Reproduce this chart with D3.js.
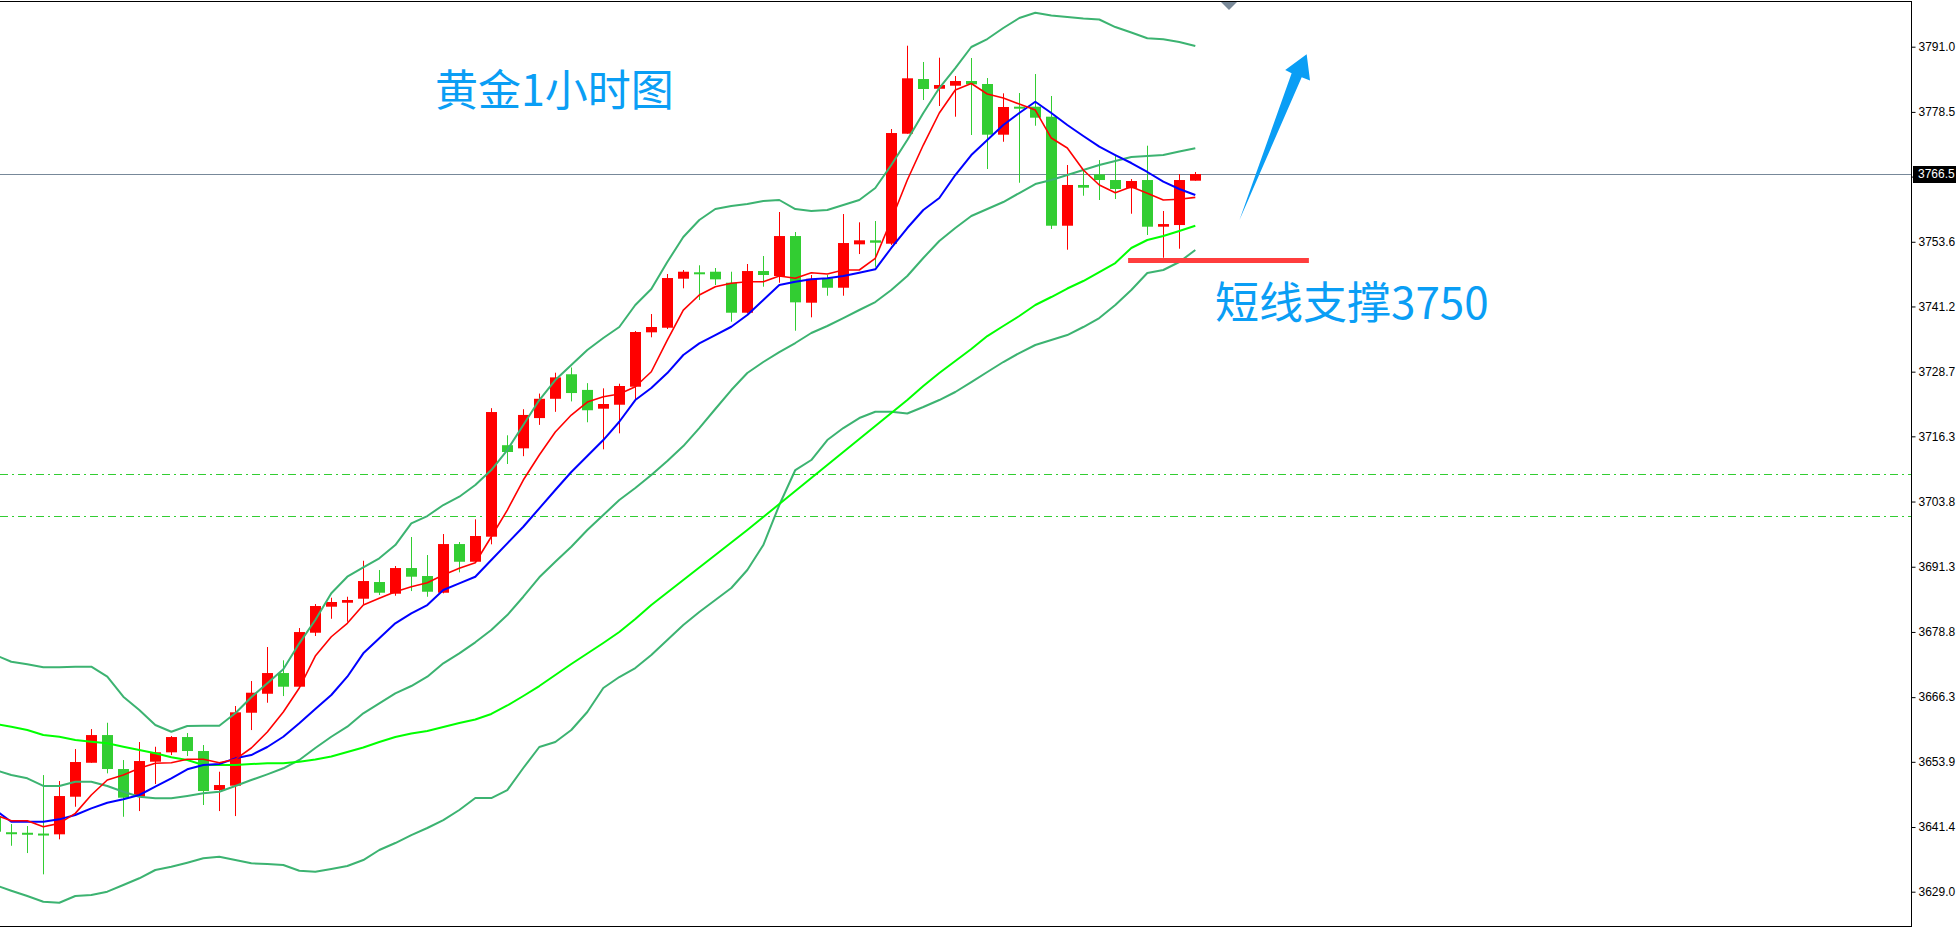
<!DOCTYPE html>
<html><head><meta charset="utf-8">
<script src="https://cdn.jsdelivr.net/npm/d3@7"></script>
<style>html,body{margin:0;padding:0;background:#fff;overflow:hidden}svg{display:block}</style>
</head><body><svg id="c" width="1956" height="927"></svg>
<script>
// ---- data (1-hour gold candles, index -1 is the partially visible first bar) ----
const barIndex = d3.range(-1, 75);
const open = [3643.37,
 3640.40,3640.30,3640.15,3640.00,3647.21,3653.72,3659.03,3652.52,3647.21,3653.92,
 3655.72,3658.65,3655.97,3648.49,3649.32,3663.31,3666.95,3670.92,3668.30,3678.65,
 3683.64,3684.40,3685.17,3688.37,3686.13,3691.05,3689.52,3686.32,3695.65,3692.26,
 3697.06,3714.6,3714.0,3719.8,3723.5,3728.2,3725.2,3721.60,3722.36,3725.81,
 3736.24,3737.12,3746.52,3747.75,3747.86,3745.75,3740.00,3747.99,3747.04,3754.70,
 3741.92,3746.59,3744.79,3753.11,3753.88,3753.23,3774.32,3784.80,3782.94,3783.52,
 3784.42,3783.85,3774.13,3779.50,3779.50,3777.58,3756.68,3764.49,3766.53,3765.44,
 3763.85,3765.44,3756.49,3756.81,3765.31];
const high = [3644.3,
 3641.97,3641.59,3651.36,3650.22,3656.35,3660.18,3661.39,3654.24,3657.70,3656.79,
 3658.84,3659.42,3657.12,3652.00,3664.60,3669.39,3675.91,3673.36,3679.55,3684.15,
 3685.36,3685.55,3692.45,3690.67,3691.44,3697.00,3693.55,3697.57,3696.04,3700.39,
 3721.7,3716.5,3721.5,3724.5,3728.5,3729.5,3726.5,3725.50,3726.39,3736.49,
 3739.75,3747.42,3748.19,3749.09,3748.57,3747.86,3749.34,3750.87,3759.31,3755.47,
 3747.23,3747.23,3758.92,3757.33,3757.58,3775.22,3791.19,3788.07,3788.89,3785.38,
 3788.83,3784.99,3782.06,3782.12,3785.76,3781.55,3768.32,3767.49,3769.27,3770.23,
 3765.63,3772.02,3759.50,3766.59,3766.98];
const low = [3639.9,
 3637.81,3636.41,3632.33,3639.04,3645.29,3653.72,3651.69,3643.37,3644.46,3649.64,
 3655.20,3655.01,3645.62,3644.46,3643.50,3659.99,3665.23,3666.51,3668.11,3678.02,
 3681.33,3680.76,3684.15,3685.88,3685.74,3686.64,3685.55,3686.20,3690.23,3692.07,
 3695.6,3711.0,3712.5,3718.5,3721.0,3723.0,3719.0,3713.81,3716.88,3723.40,
 3735.29,3736.88,3744.68,3742.44,3745.31,3738.28,3739.88,3744.99,3745.75,3736.55,
 3739.12,3743.26,3743.26,3751.25,3748.82,3752.98,3774.32,3780.78,3779.63,3777.58,
 3774.07,3767.55,3772.78,3764.92,3775.85,3756.05,3752.08,3762.43,3761.61,3761.80,
 3758.98,3754.90,3750.54,3752.27,3765.31];
const close = [3640.50,
 3640.20,3640.10,3639.95,3647.34,3653.86,3659.03,3652.52,3647.02,3654.05,3655.72,
 3658.65,3655.97,3648.30,3649.45,3663.39,3667.15,3670.92,3668.30,3678.78,3683.77,
 3684.54,3684.92,3688.56,3686.32,3691.05,3689.39,3686.51,3695.65,3692.26,3697.19,
 3720.96,3713.3,3720.4,3723.5,3727.6,3724.6,3721.3,3722.50,3725.95,3736.30,
 3737.26,3746.65,3747.86,3747.60,3746.40,3740.00,3747.99,3747.23,3754.70,3741.99,
 3746.52,3744.79,3753.36,3753.88,3753.42,3774.45,3784.94,3782.89,3783.65,3784.42,
 3783.79,3774.13,3779.44,3779.40,3777.39,3756.68,3764.49,3763.97,3765.44,3763.72,
 3765.25,3756.49,3757.00,3765.44,3766.59];

// indicator lines, read at each bar
const maFast = [3643.70,3642.60,3642.60,3641.45,3642.10,3644.02,3647.54,3650.41,3651.37,3652.66,3653.62,
 3653.73,3654.38,3654.38,3653.73,3654.38,3656.55,3659.62,3663.45,3668.05,3674.18,
 3677.88,3680.45,3683.96,3685.25,3686.52,3687.47,3688.24,3689.71,3691.00,3692.07,
 3697.05,3702.17,3707.92,3712.72,3717.13,3720.38,3722.88,3723.89,3724.41,3725.81,
 3728.68,3734.76,3740.51,3743.40,3744.99,3745.64,3745.95,3745.95,3747.04,3746.60,
 3747.67,3747.42,3748.19,3748.19,3750.43,3757.78,3765.44,3772.15,3778.29,3782.70,
 3783.94,3781.93,3781.16,3780.01,3778.86,3773.49,3771.58,3767.36,3764.48,3763.01,
 3764.16,3762.89,3761.61,3761.74,3762.12];
const maMid = [3644.65,3642.41,3642.41,3642.41,3642.87,3643.70,3644.98,3646.05,3646.71,3647.54,3649.13,
 3650.74,3652.46,3653.29,3653.48,3654.57,3655.20,3656.74,3658.71,3661.28,3664.02,
 3666.71,3670.22,3674.70,3677.58,3680.45,3682.37,3683.96,3686.84,3688.12,3689.39,
 3692.59,3695.79,3698.97,3702.50,3706.01,3709.46,3712.52,3715.59,3719.10,3723.26,
 3725.56,3728.43,3731.89,3734.13,3735.72,3737.31,3739.55,3742.43,3745.32,3745.95,
 3746.41,3746.60,3747.04,3747.67,3748.32,3752.41,3756.24,3759.69,3761.99,3766.40,
 3770.23,3773.11,3775.98,3778.29,3780.45,3778.29,3775.98,3773.88,3771.83,3770.23,
 3768.70,3766.98,3765.12,3763.72,3762.57];
const maSlow = [3661.15,3660.63,3660.00,3659.04,3658.71,3658.08,3657.75,3657.45,3656.80,3656.17,3655.53,
 3654.77,3654.25,3653.29,3653.29,3653.29,3653.48,3653.62,3653.62,3653.93,3654.35,
 3654.92,3655.79,3656.65,3657.70,3658.66,3659.33,3659.81,3660.58,3661.34,3662.01,
 3663.07,3664.70,3666.52,3668.43,3670.54,3672.65,3674.66,3676.68,3678.79,3681.28,
 3683.96,3686.36,3688.76,3691.15,3693.55,3695.94,3698.34,3700.83,3703.32,3705.82,
 3708.31,3710.80,3713.30,3715.79,3718.28,3720.77,3723.26,3725.95,3728.44,3730.74,
 3733.04,3735.53,3737.45,3739.37,3741.48,3743.01,3744.64,3746.08,3747.80,3749.53,
 3752.41,3753.94,3754.71,3755.66,3756.68];
const bbUpper = [3674.38,3673.09,3672.59,3672.02,3672.02,3672.14,3672.14,3670.22,3666.38,3663.83,3660.96,
 3659.67,3660.76,3660.82,3660.82,3663.20,3666.27,3668.95,3671.64,3676.62,3681.08,
 3686.21,3689.39,3691.19,3692.91,3695.46,3699.62,3701.02,3703.13,3704.73,3706.97,
 3709.84,3713.68,3718.47,3723.26,3727.10,3729.97,3732.85,3735.15,3737.26,3741.48,
 3744.54,3749.72,3754.51,3757.77,3759.88,3760.46,3760.84,3761.41,3761.61,3759.88,
 3759.50,3759.69,3760.65,3761.61,3763.91,3768.32,3773.11,3778.29,3783.08,3786.91,
 3790.94,3792.47,3794.58,3796.50,3797.52,3796.98,3796.69,3796.40,3796.21,3794.77,
 3793.72,3792.61,3792.42,3791.90,3791.13];
const bbMiddle = [3652.33,3651.37,3650.74,3649.27,3649.27,3650.09,3650.09,3649.27,3648.17,3647.21,3646.90,
 3646.90,3647.35,3647.86,3648.17,3649.27,3650.41,3651.50,3652.66,3654.25,3656.55,
 3658.71,3660.63,3663.20,3665.12,3667.03,3668.43,3670.22,3672.78,3674.70,3676.81,
 3679.17,3682.04,3685.55,3689.27,3692.26,3695.14,3698.34,3701.22,3704.09,3706.39,
 3708.88,3711.57,3714.44,3717.89,3721.54,3725.18,3728.44,3730.55,3732.46,3734.19,
 3736.11,3737.45,3738.98,3740.52,3742.05,3744.35,3747.04,3750.49,3753.75,3756.24,
 3758.54,3759.88,3761.22,3762.95,3764.67,3765.44,3766.40,3767.36,3768.32,3769.08,
 3769.85,3770.04,3770.23,3770.90,3771.52];
const bbLower = [3630.28,3629.19,3628.17,3627.08,3626.89,3628.17,3628.37,3629.00,3630.28,3631.57,3633.16,
 3633.79,3634.56,3635.40,3635.71,3635.07,3634.44,3634.31,3634.11,3633.02,3632.83,
 3633.35,3633.92,3635.07,3636.99,3638.33,3639.86,3641.21,3642.74,3644.66,3646.96,
 3646.96,3648.49,3652.71,3656.74,3657.70,3660.00,3663.45,3668.05,3670.16,3671.88,
 3674.38,3677.25,3680.13,3682.62,3684.92,3687.22,3690.67,3695.46,3703.13,3709.84,
 3711.76,3715.59,3717.89,3719.81,3721.02,3721.02,3720.67,3721.92,3723.26,3724.80,
 3726.71,3728.63,3730.55,3732.27,3733.81,3734.77,3735.72,3737.26,3738.98,3741.48,
 3744.35,3747.61,3748.19,3749.72,3752.02];

const tickValues = [3791.0,3778.5,3766.1,3753.6,3741.2,3728.7,3716.3,3703.8,3691.3,3678.8,3666.3,3653.9,3641.4,3629.0];
const tickLabels = ["3791.0","3778.5","3766.1","3753.6","3741.2","3728.7","3716.3","3703.8","3691.3","3678.8","3666.3","3653.9","3641.4","3629.0"];
const levelLines = [3709.0, 3701.0];
const currentPrice = 3766.52;
const currentLabel = "3766.5";
const supportLevel = 3750;
const supportSpan = [69.8, 81.1];           // bar-index span of the support mark
const titleText = "黄金1小时图";
const supportText = "短线支撑3750";
// arrow outline in (bar index, price)
const arrowIdx   = [76.76, 80.02, 79.62, 80.96, 81.17, 80.65];
const arrowPrice = [3757.77, 3785.90, 3786.53, 3789.54, 3784.52, 3785.13];

// ---- drawing ----
const W = 1956, H = 927, plotRight = 1911, plotTop = 1, plotBottom = 926;
const svg = d3.select('#c');
const x = d3.scaleLinear().domain([-1, 74]).range([-4.7, 1195.3]);
const y = d3.scaleLinear().domain([3629.0, 3791.0]).range([891.7, 46.7]);

svg.append('rect').attr('width', W).attr('height', H).attr('fill', '#fff');
svg.append('defs').append('clipPath').attr('id', 'plot')
  .append('rect').attr('x', 0).attr('y', plotTop).attr('width', plotRight).attr('height', plotBottom - plotTop);
const g = svg.append('g').attr('clip-path', 'url(#plot)');

// dash-dot level lines
g.selectAll('line.lvl').data(levelLines).enter().append('line')
  .attr('x1', 0).attr('x2', plotRight)
  .attr('y1', d => Math.round(y(d)) + 0.5).attr('y2', d => Math.round(y(d)) + 0.5)
  .attr('stroke', '#32cd32').attr('stroke-width', 1).attr('stroke-dasharray', '8,4,2,4');

// current price line
g.append('line').attr('x1', 0).attr('x2', plotRight)
  .attr('y1', Math.round(y(currentPrice)) + 0.5).attr('y2', Math.round(y(currentPrice)) + 0.5)
  .attr('stroke', '#778899').attr('stroke-width', 1);

// candles
const bars = barIndex.map((b, k) => ({ i: b, o: open[k], h: high[k], l: low[k], c: close[k] }));
const col = d => d.c >= d.o ? '#ff0000' : '#32cd32';
const cg = g.append('g');
cg.selectAll('rect.wick').data(bars).enter().append('rect')
  .attr('x', d => Math.round(x(d.i)))
  .attr('y', d => y(d.h)).attr('width', 1)
  .attr('height', d => Math.max(1, y(d.l) - y(d.h)))
  .attr('fill', col);
cg.selectAll('rect.body').data(bars).enter().append('rect')
  .attr('x', d => Math.round(x(d.i)) - 5)
  .attr('y', d => Math.min(y(d.o), y(d.c)))
  .attr('width', 11)
  .attr('height', d => Math.max(2, Math.abs(y(d.o) - y(d.c))))
  .attr('fill', col);

// indicator lines
const line = d3.line().x((d, k) => x(barIndex[k])).y(d => y(d));
const series = [
  { v: bbUpper, c: '#3cb371', w: 2 },
  { v: bbMiddle, c: '#3cb371', w: 2 },
  { v: bbLower, c: '#3cb371', w: 2 },
  { v: maSlow, c: '#00ff00', w: 2 },
  { v: maMid, c: '#0000ff', w: 2 },
  { v: maFast, c: '#ff0000', w: 1.6 }
];
series.forEach(s => {
  g.append('path').attr('d', line(s.v)).attr('fill', 'none')
    .attr('stroke', s.c).attr('stroke-width', s.w).attr('stroke-linejoin', 'round');
});

// support mark
g.append('line')
  .attr('x1', x(supportSpan[0])).attr('x2', x(supportSpan[1]))
  .attr('y1', y(supportLevel)).attr('y2', y(supportLevel))
  .attr('stroke', '#ff3d3d').attr('stroke-width', 5);

// arrow
g.append('polygon')
  .attr('points', arrowIdx.map((v, k) => x(v) + ',' + y(arrowPrice[k])).join(' '))
  .attr('fill', '#0a9ef5');

// texts
svg.append('text').attr('x', 435).attr('y', 106).text(titleText)
  .attr('font-family', '"Noto Sans CJK SC", "Noto Sans", sans-serif')
  .attr('font-size', 43).attr('fill', '#0a9ef5');
svg.append('text').attr('x', 1215).attr('y', 319).text(supportText)
  .attr('font-family', '"Noto Sans CJK SC", "Noto Sans", sans-serif')
  .attr('font-size', 44).attr('fill', '#0a9ef5');

// frame
svg.append('line').attr('x1', 0).attr('x2', plotRight + 1).attr('y1', 1.5).attr('y2', 1.5).attr('stroke', '#000');
svg.append('line').attr('x1', 0).attr('x2', plotRight + 1).attr('y1', plotBottom + 0.5).attr('y2', plotBottom + 0.5).attr('stroke', '#000');
svg.append('line').attr('x1', plotRight + 0.5).attr('x2', plotRight + 0.5).attr('y1', 1).attr('y2', plotBottom + 1).attr('stroke', '#000');

// small shift marker at top
svg.append('polygon').attr('points', '1221,2 1237,2 1229,10').attr('fill', '#7a8a99');

// price axis
const axis = d3.axisRight(y).tickValues(tickValues)
  .tickFormat((d, k) => tickLabels[k]).tickSize(4).tickPadding(3).tickSizeOuter(0);
const ag = svg.append('g').attr('transform', `translate(${plotRight + 0.5},0)`).call(axis);
ag.select('.domain').remove();
ag.selectAll('line').attr('stroke', '#000');
ag.selectAll('text').attr('font-family', '"Liberation Sans", Arial, sans-serif')
  .attr('font-size', 12).attr('fill', '#000');

// current price label
const cy = y(currentPrice);
svg.append('rect').attr('x', plotRight + 2).attr('y', Math.round(cy) - 8).attr('width', W - plotRight).attr('height', 17).attr('fill', '#000');
svg.append('text').attr('x', plotRight + 7).attr('y', cy).attr('dy', '0.32em').text(currentLabel)
  .attr('font-family', '"Liberation Sans", Arial, sans-serif').attr('font-size', 12).attr('fill', '#fff');
</script></body></html>
